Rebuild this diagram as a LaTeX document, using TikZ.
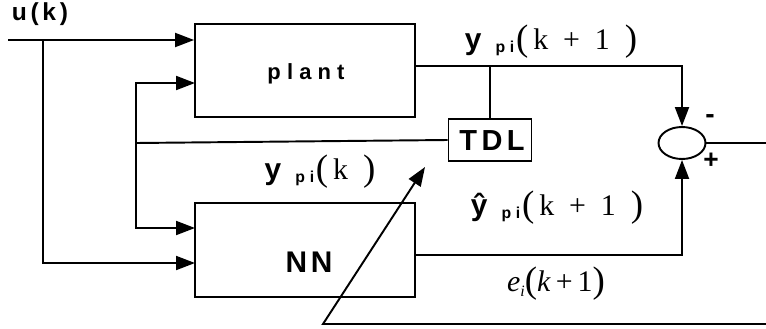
\documentclass[tikz,border=0pt]{standalone}
\usepackage{fontspec}
\setmainfont{Liberation Serif}
\setsansfont{Liberation Sans}
\usetikzlibrary{arrows.meta,shapes.geometric}

\newcommand{\ysub}[1]{\hspace{8pt}\raisebox{-2pt}{\fontsize{9}{10}\selectfont\sffamily\bfseries\addfontfeature{LetterSpace=30}#1}\hspace{1pt}}
\newcommand{\bigp}[1]{\raisebox{-1pt}{\fontsize{21}{22}\selectfont#1}}

\begin{document}
\begin{tikzpicture}[
		x=0.02cm, y=-0.02cm,
		line width=1.1pt,
		blk/.style = {draw, rectangle, line width=1.1pt, inner sep=0pt},
		lbl/.style = {font=\fontsize{17}{19}\selectfont, inner sep=0pt},
		arr/.style = {-{Triangle[length=0.38cm,width=0.28cm]}}
		]
		\useasboundingbox (0,0) rectangle (766,328);
		
		% blocks
		\node[blk, minimum width=4.4cm, minimum height=1.86cm] (plant) at (305,70.5) {};
		\node[blk, minimum width=4.4cm, minimum height=1.88cm] (nn) at (305,250) {};
		\node[blk, minimum width=1.66cm, minimum height=0.84cm] (tdl) at (490,140) {};
		\node[draw, ellipse, line width=1.1pt, minimum width=0.94cm, minimum height=0.64cm, inner sep=0pt] (sum) at (682,143) {};
		
		\node[font=\fontsize{12.5}{14}\selectfont\sffamily\bfseries\addfontfeature{LetterSpace=28}] (plantlbl) at (306,74) {plant};
		\node[font=\fontsize{17}{19}\selectfont\sffamily\bfseries\addfontfeature{LetterSpace=12}] (nnlbl) at (309,262) {NN};
		\node[font=\fontsize{16.5}{18}\selectfont\sffamily\bfseries\addfontfeature{LetterSpace=15}] (tdllbl) at (492,141) {TDL};
		
		% points on the lines
		\coordinate (uin) at (8,40);
		\coordinate (ubr) at (43,40);
		\coordinate (nnin2) at (195,263);
		\coordinate (fbr) at (136,143);
		\coordinate (plantin2) at (195,83);
		\coordinate (nnin1) at (195,228);
		\coordinate (ytop) at (490,66);
		\coordinate (nnout) at (415,255);
		\coordinate (yout) at (766,143);
		\coordinate (eend) at (766,324);
		\coordinate (ecorner) at (323,324);
		\coordinate (etip) at (425,167);
		
		\draw[arr] (uin) -- (plant.west |- uin);
		\draw[arr] (ubr) |- (nnin2);
		\draw (tdl.west) -- (fbr);
		\draw[arr] (fbr) |- (plantin2);
		\draw[arr] (fbr) |- (nnin1);
		\draw[arr] (plant.east |- ytop) -| (sum.north);
		\draw (ytop) -- (tdl.north);
		\draw[arr] (nnout) -| (sum.south);
		\draw (sum.east) -- (yout);
		\draw[arr] (eend) -- (ecorner) -- (etip);
		
		% Labels
		\node[font=\fontsize{14}{16}\selectfont\sffamily\bfseries\addfontfeature{LetterSpace=15}] (ulbl) at (40,14) {u(k)};
		\node[font=\fontsize{16}{18}\selectfont\sffamily\bfseries] (minus) at (710,119) {-};
		\node[font=\fontsize{15}{17}\selectfont\sffamily\bfseries] (plus) at (711,161) {+};
		\node[lbl] (ylbl1) at (551,42) {{\sffamily\bfseries y}\ysub{pi}\bigp{(}\,k\enspace+\enspace1\enspace\bigp{)}};
		\node[lbl] (ylbl0) at (320,172) {{\sffamily\bfseries y}\ysub{pi}\bigp{(}\,k\enspace\bigp{)}};
		\node[lbl] (yhlbl) at (557,208) {{\sffamily\bfseries\^{y}}\ysub{pi}\bigp{(}\,k\enspace+\enspace1\enspace\bigp{)}};
		\node[lbl] (elbl) at (556,284) {\textit{e}\raisebox{-3pt}{\fontsize{9}{10}\selectfont\textit{i}}\bigp{(}\textit{k}\,+\,1\bigp{)}};
	\end{tikzpicture}
\end{document}
